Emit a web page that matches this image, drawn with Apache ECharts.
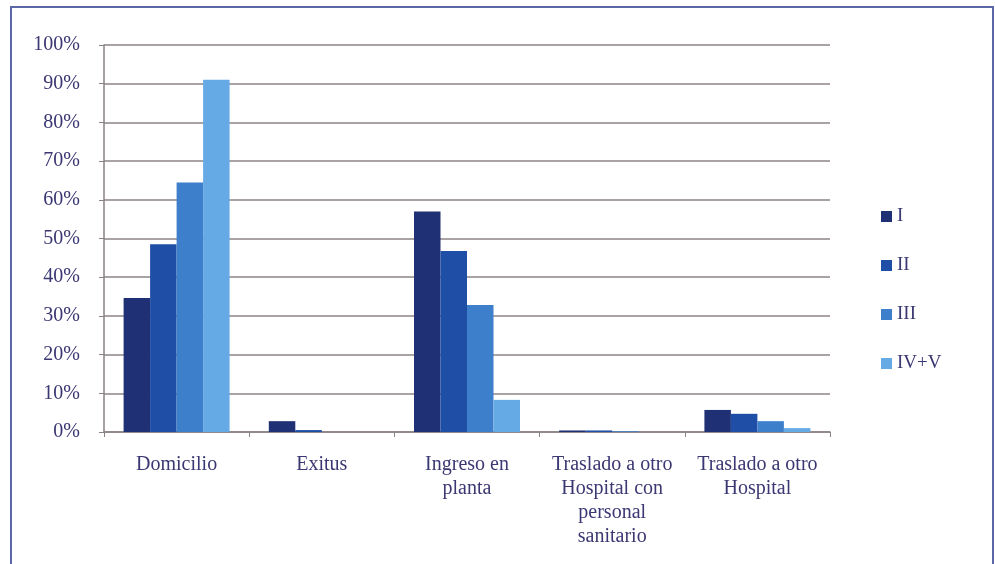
<!DOCTYPE html>
<html>
<head>
<meta charset="utf-8">
<script src="https://cdn.jsdelivr.net/npm/echarts@6/dist/echarts.min.js"></script>
<style>
  html, body { margin: 0; padding: 0; background: #ffffff; }
  #chart { width: 995px; height: 564px; }
</style>
</head>
<body>
<div id="chart"></div>
<script>
// Destination categories (x axis)
const categories = [
  'Domicilio',
  'Exitus',
  'Ingreso en\nplanta',
  'Traslado a otro\nHospital con\npersonal\nsanitario',
  'Traslado a otro\nHospital'
];

// Percentages per severity level
const seriesNames = ['I', 'II', 'III', 'IV+V'];
const valuesI   = [34.6, 2.8, 57.0, 0.4, 5.7];
const valuesII  = [48.5, 0.5, 46.8, 0.4, 4.7];
const valuesIII = [64.5, 0.0, 32.8, 0.2, 2.8];
const valuesIV  = [91.0, 0.0, 8.3, 0.0, 1.0];

const yTicks = [0, 10, 20, 30, 40, 50, 60, 70, 80, 90, 100];

const colors = ['#1f3174', '#1f4ea6', '#3e7fcb', '#66aae5'];
const textColor = '#3b3773';
const fontFamily = '"Liberation Serif", "DejaVu Serif", serif';

const allValues = [valuesI, valuesII, valuesIII, valuesIV];

const chart = echarts.init(document.getElementById('chart'));

chart.setOption({
  backgroundColor: '#ffffff',
  animation: false,
  color: colors,
  textStyle: { fontFamily: fontFamily },
  graphic: [{
    type: 'rect',
    shape: { x: 11, y: 7, width: 982, height: 600 },
    style: { fill: 'none', stroke: '#5b67a6', lineWidth: 2 },
    z: 0
  }],
  legend: {
    orient: 'vertical',
    left: 876,
    top: 202,
    itemWidth: 11,
    itemHeight: 11,
    itemGap: 30,
    icon: 'rect',
    textStyle: { color: textColor, fontSize: 19, fontFamily: fontFamily },
    data: seriesNames
  },
  grid: { left: 104, right: 165, top: 45, bottom: 132, containLabel: false },
  xAxis: {
    type: 'category',
    data: categories,
    axisLine: { show: true, lineStyle: { color: '#8a8282', width: 1.5 } },
    axisTick: { show: true, alignWithLabel: false, length: 5, lineStyle: { color: '#8a8282' } },
    axisLabel: {
      color: textColor,
      fontSize: 20,
      lineHeight: 24,
      margin: 21,
      interval: 0,
      fontFamily: fontFamily
    }
  },
  yAxis: {
    type: 'value',
    min: 0,
    max: 100,
    interval: 10,
    axisLine: { show: true, lineStyle: { color: '#8a8282', width: 1.5 } },
    axisTick: { show: true, length: 5, lineStyle: { color: '#8a8282' } },
    splitLine: { show: true, lineStyle: { color: '#8c8484', width: 1.5 } },
    axisLabel: {
      color: textColor,
      fontSize: 20,
      margin: 24,
      fontFamily: fontFamily,
      formatter: function (v) { return yTicks.indexOf(v) >= 0 ? v + '%' : ''; }
    }
  },
  series: seriesNames.map(function (name, i) {
    return {
      name: name,
      type: 'bar',
      data: allValues[i],
      barGap: '0%',
      barCategoryGap: '27%',
      itemStyle: { color: colors[i] }
    };
  })
});
</script>
</body>
</html>
